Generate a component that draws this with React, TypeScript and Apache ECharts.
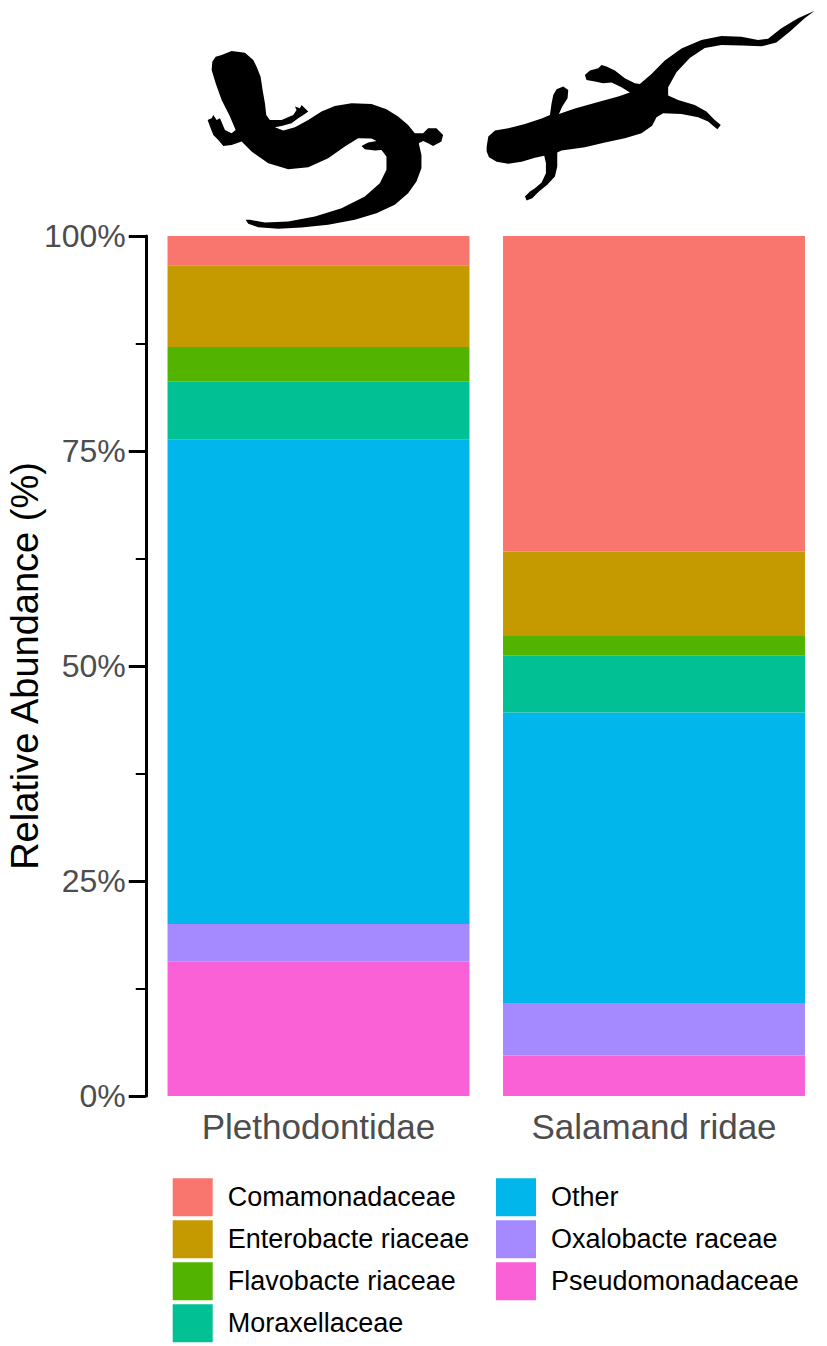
import React, { useEffect, useRef } from "react";
import * as echarts from "echarts";

const categories = ["Plethodontidae", "Salamand ridae"];
const families = [
  "Comamonadaceae",
  "Enterobacte riaceae",
  "Flavobacte riaceae",
  "Moraxellaceae",
  "Other",
  "Oxalobacte raceae",
  "Pseudomonadaceae",
];
const comamonadaceae = [3.4, 36.7];
const enterobacteriaceae = [9.5, 9.8];
const flavobacteriaceae = [4.0, 2.3];
const moraxellaceae = [6.8, 6.6];
const other = [56.3, 33.8];
const oxalobacteraceae = [4.4, 6.1];
const pseudomonadaceae = [15.6, 4.7];
const yTicks = [0, 25, 50, 75, 100];

const colors = ["#F8766D", "#C49A00", "#53B400", "#00C094", "#00B6EB", "#A58AFF", "#FB61D7"];
const values = [
  comamonadaceae,
  enterobacteriaceae,
  flavobacteriaceae,
  moraxellaceae,
  other,
  oxalobacteraceae,
  pseudomonadaceae,
];

const salLeft =
  "M80,45 L110,33 L150,38 L175,60 L185,80 L197,110 L203,150 L210,190 L214,225 L225,240 L260,240 L295,225 L305,210 L300,200 L315,205 L320,195 L330,205 L340,215 L330,222 L310,235 L290,250 L260,258 L240,262 L265,272 L300,262 L340,240 L380,215 L420,198 L470,190 L530,192 L575,208 L610,230 L640,255 L660,280 L685,280 L700,265 L725,265 L745,285 L740,305 L715,318 L700,310 L685,303 L672,310 L680,345 L680,385 L665,425 L640,460 L600,495 L545,520 L480,540 L400,555 L320,563 L250,567 L190,562 L160,552 L152,540 L165,540 L210,548 L280,545 L360,530 L440,505 L510,470 L555,430 L575,390 L575,350 L560,330 L540,332 L510,328 L500,318 L520,308 L545,303 L530,296 L490,295 L450,320 L400,355 L340,382 L280,388 L220,370 L170,335 L140,305 L110,315 L85,318 L70,300 L55,285 L45,260 L38,240 L50,235 L55,225 L65,240 L75,235 L90,270 L110,280 L122,270 L105,230 L80,180 L62,130 L50,90 L52,65 L62,50 Z";

const salRight =
  "M35,440 L40,410 L60,392 L100,385 L150,372 L200,356 L225,345 L230,310 L235,285 L245,268 L265,260 L280,270 L278,295 L262,320 L252,342 L300,326 L370,306 L430,290 L465,278 L440,262 L410,248 L385,250 L360,245 L335,240 L330,225 L345,212 L370,205 L380,195 L395,200 L420,212 L450,235 L480,250 L495,252 L530,222 L570,182 L620,146 L680,120 L740,108 L800,110 L850,120 L880,116 L920,85 L970,55 L1020,32 L990,55 L945,95 L905,128 L860,139 L800,137 L740,135 L690,144 L645,174 L605,217 L580,262 L580,287 L610,300 L660,315 L695,335 L720,360 L738,375 L728,388 L715,378 L700,365 L670,352 L620,342 L565,340 L545,352 L532,378 L500,400 L450,415 L390,428 L330,442 L260,452 L247,458 L247,500 L240,530 L217,555 L192,575 L172,595 L155,602 L150,590 L165,575 L180,565 L200,548 L213,520 L213,490 L208,468 L180,474 L140,486 L100,492 L65,486 L42,472 L35,455 Z";

const FONT = "Liberation Sans, Arial, sans-serif";

export default function App() {
  const ref = useRef<HTMLDivElement>(null);
  useEffect(() => {
    document.body.style.margin = "0";
    if (!ref.current) return;
    echarts.graphic.registerShape("salLeft", echarts.graphic.extendPath(salLeft, {}));
    echarts.graphic.registerShape("salRight", echarts.graphic.extendPath(salRight, {}));
    const chart = echarts.init(ref.current, null, { renderer: "svg" });
    const order = [6, 5, 4, 3, 2, 1, 0];
    const series = order.map((i) => ({
      name: families[i],
      type: "bar",
      stack: "total",
      barWidth: "90%",
      data: values[i],
      itemStyle: { color: colors[i], borderWidth: 0 },
    }));
    const legendBase = {
      orient: "vertical",
      icon: "rect",
      itemWidth: 40,
      itemHeight: 38,
      itemGap: 4,
      padding: 0,
      selectedMode: false,
      textStyle: { fontSize: 27, color: "#000", fontFamily: FONT, padding: [0, 0, 0, 10] },
    };
    chart.setOption({
      animation: false,
      textStyle: { fontFamily: FONT },
      grid: {
        left: 150.75,
        right: 5.25,
        top: 236,
        bottom: 250,
        containLabel: false,
        outerBoundsMode: "none",
      },
      legend: [
        { ...legendBase, data: families.slice(0, 4), left: 172.7, top: 1178.3 },
        { ...legendBase, data: families.slice(4), left: 496, top: 1178.3 },
      ],
      xAxis: {
        type: "category",
        data: categories,
        axisLine: { show: false },
        axisTick: { show: false },
        axisLabel: { fontSize: 35, color: "#4D4D4D", margin: 13, fontFamily: FONT },
      },
      yAxis: {
        type: "value",
        min: yTicks[0],
        max: yTicks[yTicks.length - 1],
        interval: 25,
        offset: 5,
        name: "Relative Abundance (%)",
        nameLocation: "middle",
        nameGap: 102,
        nameMoveOverlap: false,
        nameTextStyle: { fontSize: 38, color: "#000", fontFamily: FONT },
        axisLine: { show: true, lineStyle: { color: "#000", width: 3 } },
        axisTick: { show: true, length: 17, lineStyle: { color: "#000", width: 3 } },
        minorTick: { show: true, splitNumber: 2, length: 10, lineStyle: { color: "#000", width: 2 } },
        splitLine: { show: false },
        axisLabel: {
          fontSize: 32,
          color: "#4D4D4D",
          margin: 20,
          fontFamily: FONT,
          formatter: (v: number) => (yTicks.includes(v) ? v + "%" : ""),
        },
      },
      graphic: [
        { type: "salLeft", x: 195, y: 40, scaleX: 1 / 3, scaleY: 1 / 3, style: { fill: "#000" } },
        { type: "salRight", x: 475, y: 0, scaleX: 1 / 3, scaleY: 1 / 3, style: { fill: "#000" } },
      ],
      series,
    });
    return () => chart.dispose();
  }, []);
  return <div ref={ref} style={{ width: 827, height: 1346 }} />;
}
